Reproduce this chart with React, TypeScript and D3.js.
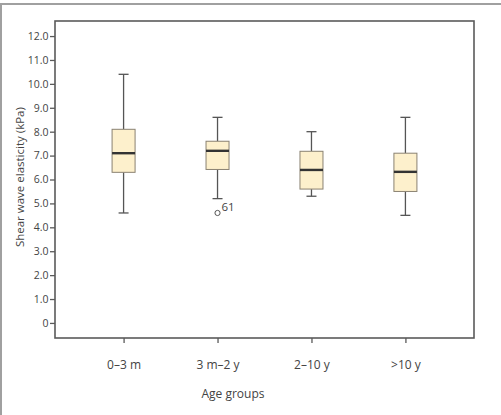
import { useEffect, useRef } from "react";
import * as d3 from "d3";

const groups = ["0–3 m", "3 m–2 y", "2–10 y", ">10 y"];
const whiskerLow = [4.6, 5.2, 5.3, 4.5];
const q1 = [6.3, 6.42, 5.6, 5.5];
const median = [7.1, 7.2, 6.4, 6.32];
const q3 = [8.1, 7.6, 7.18, 7.1];
const whiskerHigh = [10.4, 8.6, 8.0, 8.6];

// outliers: [group index, value, case label]
const outliers: [number, number, string][] = [[1, 4.6, "61"]];

const yTicks = [0, 1, 2, 3, 4, 5, 6, 7, 8, 9, 10, 11, 12];

const W = 501;
const H = 415;
const FONT = "'Open Sans', sans-serif";

export default function App() {
  const svgRef = useRef<SVGSVGElement>(null);

  useEffect(() => {
    const svg = d3.select(svgRef.current);
    svg.selectAll("*").remove();

    const margin = { top: 21, right: 27, bottom: 77, left: 55 };
    const width = W - margin.left - margin.right;
    const height = H - margin.top - margin.bottom;

    // outer figure frame (top and left edges only)
    svg.append("path")
      .attr("d", `M1,${H} L1,4 L${W},4`)
      .attr("fill", "none")
      .attr("stroke", "#a0a0a0")
      .attr("stroke-width", 2);

    const g = svg.append("g").attr("transform", `translate(${margin.left},${margin.top})`);

    const x = d3.scalePoint<string>().domain(groups).range([0, width]).padding(0.73);
    const y = d3.scaleLinear().domain([-0.63, 12.63]).range([height, 0]);

    // plot frame
    g.append("rect")
      .attr("x", 0)
      .attr("y", 0)
      .attr("width", width)
      .attr("height", height)
      .attr("fill", "none")
      .attr("stroke", "#5a5a5a")
      .attr("stroke-width", 1.6);

    const yAxis = d3.axisLeft(y)
      .tickValues(yTicks)
      .tickSize(5)
      .tickPadding(1.5)
      .tickFormat((d) => (d === 0 ? "0" : d3.format(".1f")(d as number)));

    const ya = g.append("g").call(yAxis);
    ya.select(".domain").remove();
    ya.selectAll("line").attr("stroke", "#5a5a5a").attr("stroke-width", 1.3);
    ya.selectAll("text")
      .attr("font-family", FONT)
      .attr("font-size", "10.5px")
      .attr("fill", "#444");

    const xAxis = d3.axisBottom(x).tickSize(5).tickPadding(17);
    const xa = g.append("g").attr("transform", `translate(0,${height})`).call(xAxis);
    xa.select(".domain").remove();
    xa.selectAll("line").attr("stroke", "#5a5a5a").attr("stroke-width", 1.3);
    xa.selectAll("text")
      .attr("font-family", FONT)
      .attr("font-size", "12px")
      .attr("fill", "#444");

    // axis titles
    svg.append("text")
      .attr("transform", `translate(24,${margin.top + y(6.1)}) rotate(-90)`)
      .attr("text-anchor", "middle")
      .attr("font-family", FONT)
      .attr("font-size", "11.5px")
      .attr("fill", "#444")
      .text("Shear wave elasticity (kPa)");

    svg.append("text")
      .attr("x", 233)
      .attr("y", 398)
      .attr("text-anchor", "middle")
      .attr("font-family", FONT)
      .attr("font-size", "12px")
      .attr("fill", "#444")
      .text("Age groups");

    const boxW = 23;
    const capW = 10;

    groups.forEach((grp, i) => {
      const cx = x(grp) as number;
      const bg = g.append("g");

      // whiskers
      bg.append("line")
        .attr("x1", cx).attr("x2", cx)
        .attr("y1", y(q3[i])).attr("y2", y(whiskerHigh[i]))
        .attr("stroke", "#555").attr("stroke-width", 1.3);
      bg.append("line")
        .attr("x1", cx).attr("x2", cx)
        .attr("y1", y(q1[i])).attr("y2", y(whiskerLow[i]))
        .attr("stroke", "#555").attr("stroke-width", 1.3);
      [whiskerHigh[i], whiskerLow[i]].forEach((v) => {
        bg.append("line")
          .attr("x1", cx - capW / 2).attr("x2", cx + capW / 2)
          .attr("y1", y(v)).attr("y2", y(v))
          .attr("stroke", "#555").attr("stroke-width", 1.3);
      });

      // box
      bg.append("rect")
        .attr("x", cx - boxW / 2)
        .attr("y", y(q3[i]))
        .attr("width", boxW)
        .attr("height", y(q1[i]) - y(q3[i]))
        .attr("fill", "#fdf0cc")
        .attr("stroke", "#8a8272")
        .attr("stroke-width", 1);

      // median
      bg.append("line")
        .attr("x1", cx - boxW / 2).attr("x2", cx + boxW / 2)
        .attr("y1", y(median[i])).attr("y2", y(median[i]))
        .attr("stroke", "#333").attr("stroke-width", 2.4);
    });

    outliers.forEach(([gi, v, label]) => {
      const cx = x(groups[gi]) as number;
      g.append("circle")
        .attr("cx", cx)
        .attr("cy", y(v))
        .attr("r", 2.6)
        .attr("fill", "white")
        .attr("stroke", "#555")
        .attr("stroke-width", 1);
      g.append("text")
        .attr("x", cx + 4)
        .attr("y", y(v) - 2)
        .attr("font-family", FONT)
        .attr("font-size", "11.5px")
        .attr("fill", "#444")
        .text(label);
    });
  }, []);

  return (
    <svg
      ref={svgRef}
      width={W}
      height={H}
      style={{ position: "absolute", left: 0, top: 0, background: "white" }}
    />
  );
}
